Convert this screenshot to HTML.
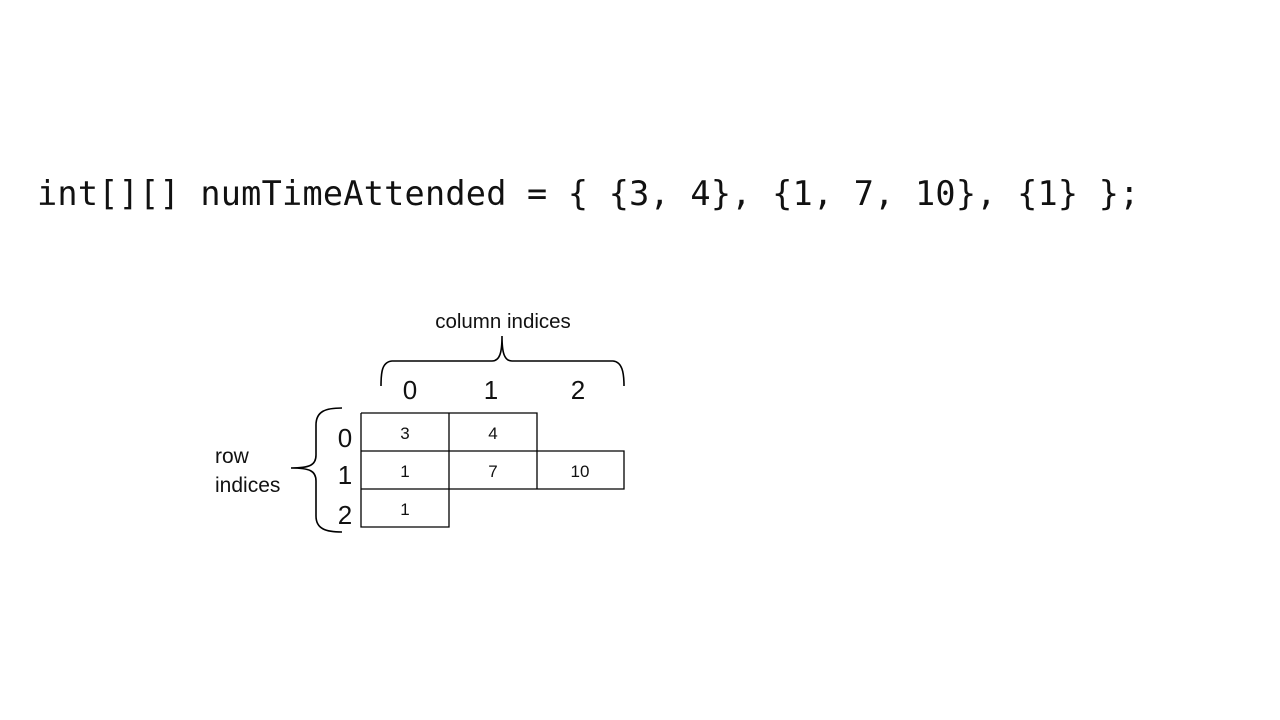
<!DOCTYPE html>
<html><head><meta charset="utf-8"><style>
body{margin:0;width:1280px;height:720px;background:#fff;position:relative;overflow:hidden;font-family:"Liberation Sans",sans-serif}
.t{position:absolute;white-space:nowrap;color:#111}
</style></head><body>
<div class="t" style="left:37px;top:174px;font-family:'DejaVu Sans Mono','Liberation Mono',monospace;font-size:33.5px;letter-spacing:0.25px">int[][] numTimeAttended = { {3, 4}, {1, 7, 10}, {1} };</div>
<svg width="1280" height="720" style="position:absolute;left:0;top:0" font-family="Liberation Sans, sans-serif">
<g stroke="#000" stroke-width="1.3" fill="none">
<path d="M361 413H537V451M361 413V527H449V451M361 451H624V489H361M449 413V489M537 451V489"/>
<path d="M381 386C381 372 382 362 392 361H492C500 361 502 352 502 336C502 352 504 361 512 361H613C622 362 624 372 624 386" stroke-width="1.6"/>
<path d="M342 408C326 408 316 411 316 425V455C316 465 310 468 291 468C310 468 316 471 316 481V516C316 529 326 532 342 532" stroke-width="1.6"/>
</g>
<g fill="#111" text-anchor="middle">
<text x="503" y="328" font-size="20.5">column indices</text>
<text x="410" y="399" font-size="26">0</text>
<text x="491" y="399" font-size="26">1</text>
<text x="578" y="399" font-size="26">2</text>
<text x="345" y="447" font-size="26">0</text>
<text x="345" y="484" font-size="26">1</text>
<text x="345" y="524" font-size="26">2</text>
<text x="405" y="439" font-size="17">3</text>
<text x="493" y="439" font-size="17">4</text>
<text x="405" y="477" font-size="17">1</text>
<text x="493" y="477" font-size="17">7</text>
<text x="580" y="477" font-size="17">10</text>
<text x="405" y="515" font-size="17">1</text>
</g>
<g fill="#111" font-size="21">
<text x="215" y="463">row</text>
<text x="215" y="492">indices</text>
</g>
</svg>
</body></html>
